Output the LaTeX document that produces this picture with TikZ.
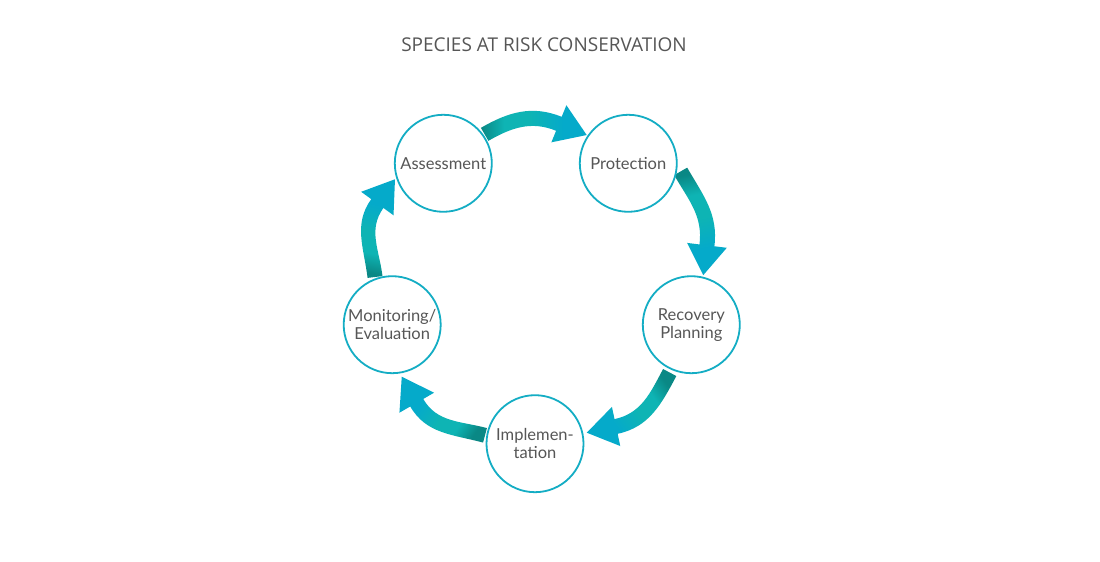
\documentclass[tikz,border=0pt]{standalone}
\usepackage{fontspec}
\setmainfont{Lato}
\newfontfamily\titlefont{Open Sans}
\usetikzlibrary{calc}

\definecolor{ringblue}{RGB}{20,173,196}
\definecolor{inkgray}{RGB}{86,86,86}
\definecolor{tealdark}{RGB}{10,136,133}
\definecolor{tealmid}{RGB}{14,180,180}
\definecolor{cyanhead}{RGB}{5,170,202}

% colour runs from the tail (left) to the head (right)
\pgfdeclarehorizontalshading{cyclegrad}{100bp}{%
  color(0bp)=(tealdark); color(25bp)=(tealdark); color(36bp)=(tealmid);
  color(48bp)=(tealmid); color(64bp)=(cyanhead); color(100bp)=(cyanhead)}

\pgfdeclarelayer{back}
\pgfsetlayers{back,main}

% curved block arrow between two stages
% #1 source node, #2 tail angle, #3 tail distance, #4 tail heading,
% #5 target node, #6 tip angle, #7 tip distance, #8 tip heading, #9 shading angle
\newcommand{\cyclearrow}[9]{%
  \pgfmathsetmacro{\inang}{#8+180}%
  \coordinate (tl) at ($(#1)+(#2:#3)$);
  \coordinate (tp) at ($(#5)+(#6:#7)$);
  \coordinate (bs) at ($(tp)+(\inang:30)$);
  \shade[shading=cyclegrad, shading angle=#9]
    ($(tl)+(#4+90:7.5)$) to[out=#4, in=\inang] ($(bs)+(#8+90:7.5)$)
    -- ($(bs)+(#8+90:20)$) -- (tp) -- ($(bs)+(#8-90:20)$)
    -- ($(bs)+(#8-90:7.5)$) to[out=\inang, in=#4] ($(tl)+(#4-90:7.5)$) -- cycle;
}

\tikzset{
  stage/.style={circle, draw=ringblue, line width=1.8pt, fill=white,
    minimum size=97pt, inner sep=0pt, align=center, text=inkgray,
    font=\fontsize{16.5}{18}\selectfont},
  heading/.style={text=inkgray, font=\titlefont\fontsize{19}{22}\selectfont}
}

\begin{document}
\begin{tikzpicture}[x=1pt,y=1pt]
  \useasboundingbox (0,0) rectangle (1100,562);

  \node[heading] (title) at (544,517) {SPECIES AT RISK CONSERVATION};

  \node[stage] (A) at (443.3,398.7) {Assessment};
  \node[stage] (P) at (628.3,398.7) {Protection};
  \node[stage] (R) at (691.3,237.3) {Recovery\\Planning};
  \node[stage] (I) at (535,118.3) {Implemen-\\tation};
  \node[stage] (M) at (392.2,237.3) {Monitoring/\\Evaluation};

  \begin{pgfonlayer}{back}
    \fill[white] (0,0) rectangle (1100,562);
    \cyclearrow{A}{35}{50.5}{30}{P}{145.8}{50.3}{-22}{0}
    \cyclearrow{P}{-8.8}{53}{-60}{R}{76.4}{51}{-97}{-78}
    \cyclearrow{R}{245.7}{52.5}{-118}{I}{12}{52.9}{192}{216}
    \cyclearrow{I}{170.5}{50.7}{165}{M}{280.4}{52.9}{120}{145}
    \cyclearrow{M}{109.8}{50.7}{97}{A}{198.3}{50.9}{54}{78}
  \end{pgfonlayer}
\end{tikzpicture}
\end{document}
